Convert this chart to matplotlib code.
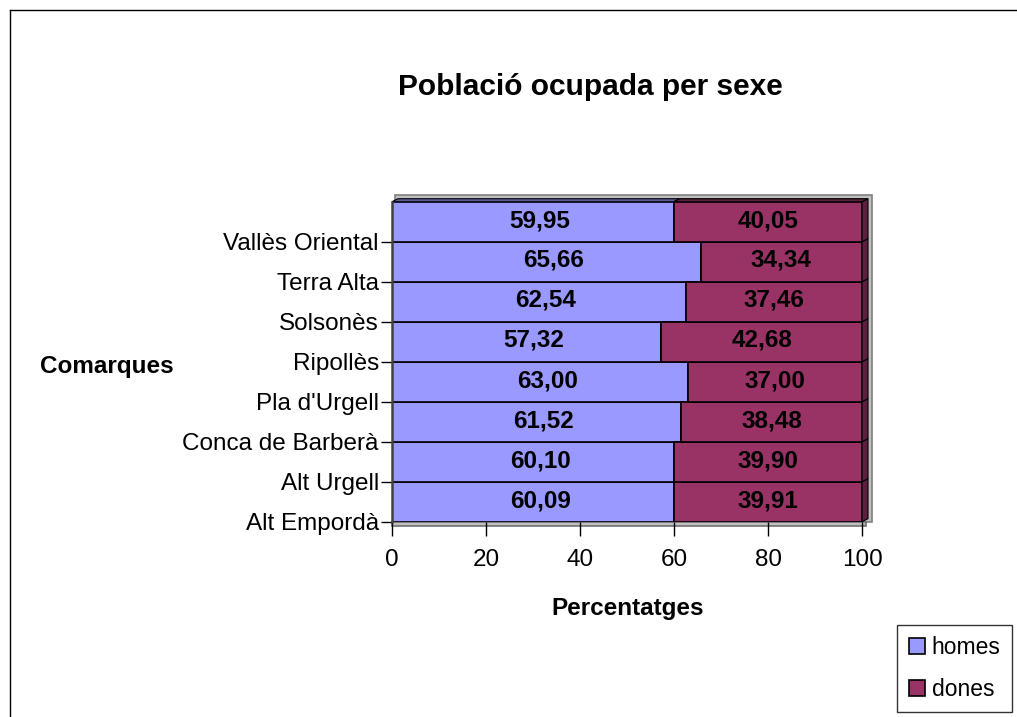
import matplotlib
matplotlib.use("Agg")
import matplotlib.pyplot as plt
from matplotlib.patches import Polygon, Rectangle
from matplotlib.lines import Line2D

plt.rcParams['font.family'] = ['Liberation Sans', 'DejaVu Sans']

# data (bottom to top)
comarques = ["Alt Empordà", "Alt Urgell", "Conca de Barberà", "Pla d'Urgell",
             "Ripollès", "Solsonès", "Terra Alta", "Vallès Oriental"]
homes = [60.09, 60.10, 61.52, 63.00, 57.32, 62.54, 65.66, 59.95]
dones = [39.91, 39.90, 38.48, 37.00, 42.68, 37.46, 34.34, 40.05]
xticks = [0, 20, 40, 60, 80, 100]

c_homes = '#9999ff'
c_dones = '#993366'
c_homes_dark = '#5c5c99'
c_dones_dark = '#5c1f3d'

W, H = 1017, 717
fig = plt.figure(figsize=(W / 100, H / 100), dpi=100)
pos = [392 / W, 1 - 521.7 / H, 470 / W, 320 / H]
ax = fig.add_axes(pos)
xmin, xmax = 0, 100
ymin, ymax = -0.5, len(comarques) - 0.5
ax.set_xlim(xmin, xmax)
ax.set_ylim(ymin, ymax)

# pixel -> data conversion for the 3d depth
dpx = (xmax - xmin) / (pos[2] * W)
dpy = (ymax - ymin) / (pos[3] * H)
ddx, ddy = 6 * dpx, 3 * dpy
wdx, wdy = 10 * dpx, 7 * dpy

# back wall + floor (grey)
wall = Rectangle((xmin + 3 * dpx, ymin), xmax - xmin + wdx - 3 * dpx, ymax - ymin + wdy,
                 facecolor='#c0c0c0', edgecolor='#808080', lw=1.2, clip_on=False, zorder=0)
ax.add_patch(wall)
floor = Rectangle((xmin, ymin - 4 * dpy), xmax - xmin + 4 * dpx, 4 * dpy,
                  facecolor='#c0c0c0', edgecolor='#707070', lw=1.2, clip_on=False, zorder=1)
ax.add_patch(floor)

y = list(range(len(comarques)))
b1 = ax.barh(y, homes, height=1.0, color=c_homes, edgecolor='black', lw=1.2, zorder=2)
b2 = ax.barh(y, dones, left=homes, height=1.0, color=c_dones, edgecolor='black', lw=1.2, zorder=2)

# side faces of the bars
for yi, h, d in zip(y, homes, dones):
    x_end = h + d
    side = Polygon([(x_end, yi - 0.5), (x_end + ddx, yi - 0.5 + ddy),
                    (x_end + ddx, yi + 0.5 + ddy), (x_end, yi + 0.5)],
                   closed=True, facecolor=c_dones_dark, edgecolor='black', lw=0.8,
                   clip_on=False, zorder=1.5)
    ax.add_patch(side)
top_y = y[-1] + 0.5
for x0, w, col in [(0, homes[-1], c_homes_dark), (homes[-1], dones[-1], c_dones_dark)]:
    top = Polygon([(x0, top_y), (x0 + w, top_y), (x0 + w + ddx, top_y + ddy), (x0 + ddx, top_y + ddy)],
                  closed=True, facecolor=col, edgecolor='black', lw=0.8, clip_on=False, zorder=1.5)
    ax.add_patch(top)

# value labels
for yi, h, d in zip(y, homes, dones):
    ax.text(h / 2 + 1.5, yi + 0.03, f"{h:.2f}".replace('.', ','), ha='center', va='center',
            fontsize=17.5, fontweight='bold', zorder=3)
    ax.text(h + d / 2, yi + 0.03, f"{d:.2f}".replace('.', ','), ha='center', va='center',
            fontsize=17.5, fontweight='bold', zorder=3)

# axes styling
for s in ['top', 'right']:
    ax.spines[s].set_visible(False)
ax.spines['left'].set_linewidth(1.8)
ax.spines['left'].set_color('#404040')
ax.spines['left'].set_zorder(2.5)
ax.spines['bottom'].set_visible(False)
ax.set_facecolor('none')

ax.set_yticks([yi - 0.5 for yi in y])
ax.set_yticklabels(comarques, fontsize=17.5)
ax.tick_params(axis='y', length=8, width=1, pad=1.5, direction='out')
ax.set_xticks(xticks)
ax.set_xticklabels([str(t) for t in xticks], fontsize=17.5)
ax.tick_params(axis='x', length=10, width=1, pad=10, direction='out')

fig.text(590 / W, 1 - 87 / H, "Població ocupada per sexe", ha='center', va='center',
         fontsize=21.5, fontweight='bold')
fig.text(107 / W, 1 - 367 / H, "Comarques", ha='center', va='center',
         fontsize=17.5, fontweight='bold')
fig.text(628 / W, 1 - 609 / H, "Percentatges", ha='center', va='center',
         fontsize=17.5, fontweight='bold')

leg = fig.legend([b1, b2], ['homes', 'dones'], loc='lower right',
                 bbox_to_anchor=(1012 / W, 1 - 712 / H), fontsize=16.5, frameon=True,
                 fancybox=False, edgecolor='black', handlelength=0.7, handleheight=0.7,
                 handletextpad=0.3, borderpad=0.5, labelspacing=0.8, borderaxespad=0)
leg.get_frame().set_linewidth(1)

# chart border (left and top visible)
fig.add_artist(Line2D([10 / W, 10 / W], [0, 1 - 10 / H], color='black', lw=1))
fig.add_artist(Line2D([10 / W, 1], [1 - 10 / H, 1 - 10 / H], color='black', lw=1))

fig.savefig('out.png', dpi=100)
